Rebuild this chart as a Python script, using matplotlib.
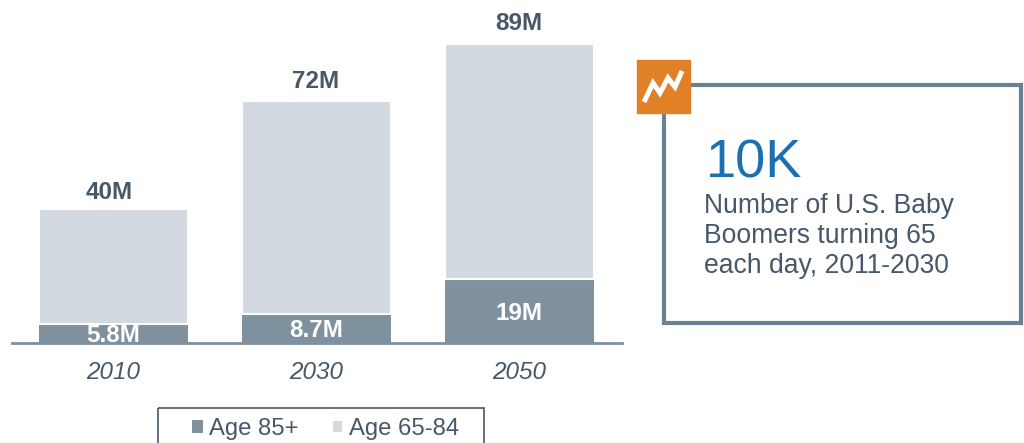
import numpy as np
import matplotlib
matplotlib.use('Agg')
import matplotlib.pyplot as plt
from matplotlib.patches import Rectangle

years = ['2010', '2030', '2050']
age_85_plus = [5.8, 8.7, 19]
age_65_84 = [34.2, 63.3, 70]
total_labels = ['40M', '72M', '89M']
inner_labels = ['5.8M', '8.7M', '19M']

WIDTH, HEIGHT = 1024, 443
DARK_BAR = '#7f919f'
LIGHT_BAR = '#d2d9e0'
TEXT_COLOR = '#46586a'
BOX_COLOR = '#6b8092'
ORANGE = '#e08027'
BLUE = '#1b6fb5'

plt.rcParams['font.family'] = ['Liberation Sans', 'DejaVu Sans']

fig = plt.figure(figsize=(WIDTH / 100, HEIGHT / 100), dpi=100)

# Bar axes: bottom edge sits on the baseline, top edge at the figure top.
ax = fig.add_axes([12 / WIDTH, 1 - 343 / HEIGHT, 610 / WIDTH, 343 / HEIGHT])
x = np.arange(len(years))
bars_85 = ax.bar(x, age_85_plus, width=0.735, color=DARK_BAR, label='Age 85+')
bars_65 = ax.bar(x, age_65_84, width=0.735, bottom=age_85_plus,
                 color=LIGHT_BAR, edgecolor='white', linewidth=1.5,
                 label='Age 65-84')
ax.set_xlim(-0.5, 2.505)
ax.set_ylim(0, 343 / 3.36)

for spine in ['top', 'left', 'right']:
    ax.spines[spine].set_visible(False)
ax.spines['bottom'].set_color(DARK_BAR)
ax.spines['bottom'].set_linewidth(2)
ax.set_yticks([])
ax.set_xticks(x)
ax.set_xticklabels(years, fontsize=17.5, style='italic', color=TEXT_COLOR)
ax.tick_params(axis='x', length=0, pad=13)

# Totals above each stack, 85+ value inside the dark segment.
total_gaps = [13.4, 15.9, 16.5]
total_shifts = [-3.2, -0.7, -0.7]
for i in x:
    top = age_85_plus[i] + age_65_84[i]
    ax.annotate(total_labels[i], (i, top),
                xytext=(total_shifts[i], total_gaps[i]),
                textcoords='offset points', ha='center',
                va='center_baseline', fontsize=17.5, fontweight='bold',
                color=TEXT_COLOR)
    ax.text(i, age_85_plus[i] / 2, inner_labels[i], ha='center',
            va='center_baseline', fontsize=17.5, fontweight='bold',
            color='white')

# Legend entries only; the frame is a separate rectangle below.
ax.legend(handles=[bars_85, bars_65], ncol=2, loc='upper left',
          bbox_to_anchor=(192 / WIDTH, 1 - 418 / HEIGHT),
          bbox_transform=fig.transFigure, frameon=False,
          fontsize=17.2, labelcolor=TEXT_COLOR, borderaxespad=0, borderpad=0,
          handlelength=0.46, handleheight=0.46, handletextpad=0.25,
          columnspacing=1.42)

# Callout panel and legend frame drawn in pixel coordinates.
panel = fig.add_axes([0, 0, 1, 1], facecolor='none')
panel.set_xlim(0, WIDTH)
panel.set_ylim(HEIGHT, 0)
panel.axis('off')
panel.add_patch(Rectangle((158, 408), 326, 45, fill=False,
                          edgecolor=TEXT_COLOR, linewidth=1.2))
panel.add_patch(Rectangle((664, 85), 357, 238, fill=False,
                          edgecolor=BOX_COLOR, linewidth=3))
panel.add_patch(Rectangle((637, 60), 53, 53, color=ORANGE, zorder=3))
panel.plot([644, 653, 660, 668, 675, 682], [102, 83, 93, 78, 87, 71],
           color='white', linewidth=3.6, zorder=4,
           solid_joinstyle='miter', solid_capstyle='butt')
panel.text(706, 178, '10K', fontsize=39, color=BLUE, ha='left',
           va='baseline')
for line, y in zip(['Number of U.S. Baby', 'Boomers turning 65',
                    'each day, 2011-2030'], [213, 243, 273]):
    panel.text(704, y, line, fontsize=19.1, color=TEXT_COLOR, ha='left',
               va='baseline')

fig.savefig('out.png', dpi=100)
